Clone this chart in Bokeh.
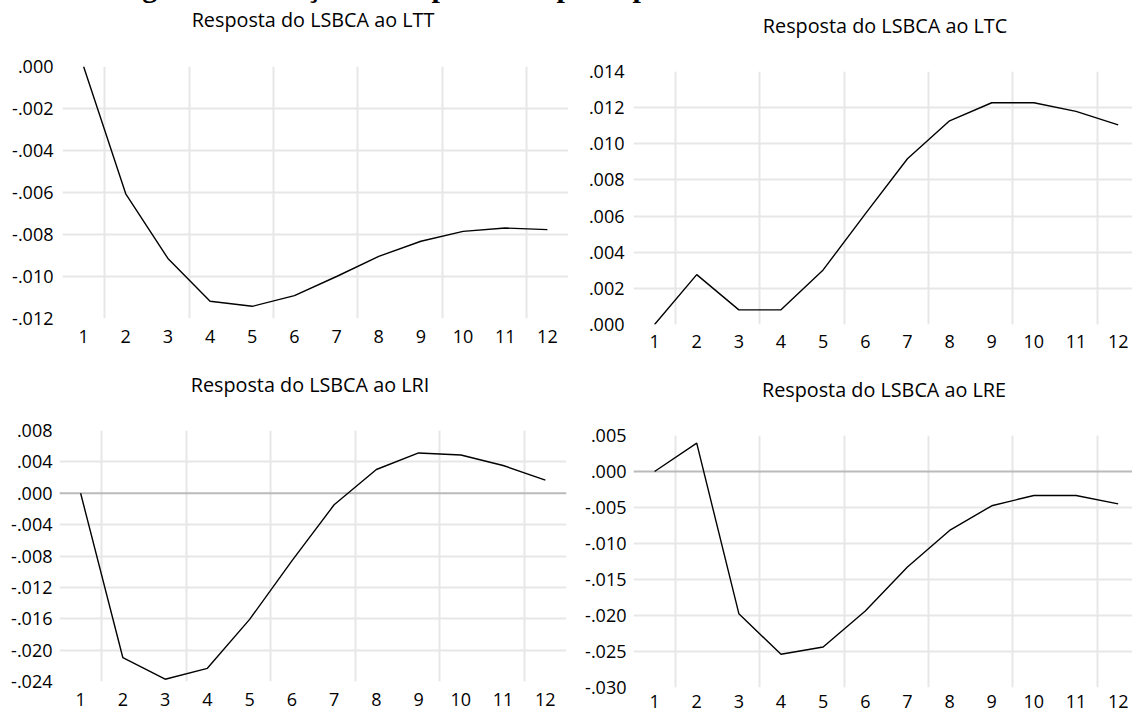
from bokeh.plotting import figure
from bokeh.models import FixedTicker, CustomJSTickFormatter, Span, Div, Range1d
from bokeh.layouts import column, row
from bokeh.embed import file_html
from bokeh.resources import INLINE

# ---------------- data ----------------
periods = [1, 2, 3, 4, 5, 6, 7, 8, 9, 10, 11, 12]
period_labels = ["1", "2", "3", "4", "5", "6", "7", "8", "9", "10", "11", "12"]

main_title = "Figura 4 – Função de Impulso-Resposta para o Modelo VAR Estimado"

title_ltt = "Resposta do LSBCA ao LTT"
title_ltc = "Resposta do LSBCA ao LTC"
title_lri = "Resposta do LSBCA ao LRI"
title_lre = "Resposta do LSBCA ao LRE"

resp_ltt = [0.0, -0.00606, -0.00914, -0.01118, -0.01142, -0.01091,
            -0.01000, -0.00904, -0.00832, -0.00785, -0.00769, -0.00777]
resp_ltc = [0.0, 0.00276, 0.00081, 0.00081, 0.00302, 0.00612,
            0.00917, 0.01127, 0.01227, 0.01227, 0.01179, 0.01105]
resp_lri = [0.0, -0.02097, -0.02371, -0.02232, -0.01608, -0.00863,
            -0.00147, 0.00303, 0.00514, 0.00488, 0.00354, 0.00168]
resp_lre = [0.0, 0.00393, -0.01975, -0.02539, -0.02438, -0.01938,
            -0.01327, -0.00819, -0.00476, -0.00333, -0.00333, -0.00449]

yticks_ltt = [0.0, -0.002, -0.004, -0.006, -0.008, -0.010, -0.012]
ylabels_ltt = [".000", "-.002", "-.004", "-.006", "-.008", "-.010", "-.012"]
yticks_ltc = [0.0, 0.002, 0.004, 0.006, 0.008, 0.010, 0.012, 0.014]
ylabels_ltc = [".000", ".002", ".004", ".006", ".008", ".010", ".012", ".014"]
yticks_lri = [0.008, 0.004, 0.0, -0.004, -0.008, -0.012, -0.016, -0.020, -0.024]
ylabels_lri = [".008", ".004", ".000", "-.004", "-.008", "-.012", "-.016", "-.020", "-.024"]
yticks_lre = [0.005, 0.0, -0.005, -0.010, -0.015, -0.020, -0.025, -0.030]
ylabels_lre = [".005", ".000", "-.005", "-.010", "-.015", "-.020", "-.025", "-.030"]

# ---------------- styling ----------------
FONT = "Open Sans"
TICK_SIZE = "18px"
TITLE_SIZE_PX = 19.8
GRID_COLOR = "#e7e7e7"
ZERO_COLOR = "#bababa"

LOOKUP_JS = """
for (let i = 0; i < tv.length; i++) {
  if (Math.abs(tv[i] - tick) < 1e-9) { return tl[i]; }
}
return "";
"""


def make_panel(values, yticks, ylabels, width, height, mbl, mbr, mbt, mbb,
               x_end, y_standoff, x_standoff, zero_line):
    y_lo, y_hi = min(yticks), max(yticks)
    p = figure(width=width, height=height,
               min_border_left=mbl, min_border_right=mbr,
               min_border_top=mbt, min_border_bottom=mbb,
               x_range=Range1d(0.5, x_end), y_range=Range1d(y_lo, y_hi),
               output_backend="svg", toolbar_location=None, tools="")
    p.margin = (0, 0, 0, 0)
    p.outline_line_color = None
    p.background_fill_color = "white"
    p.border_fill_color = "white"

    p.xaxis.ticker = FixedTicker(ticks=periods)
    p.xaxis.formatter = CustomJSTickFormatter(args=dict(tv=periods, tl=period_labels), code=LOOKUP_JS)
    p.yaxis.ticker = FixedTicker(ticks=yticks)
    p.yaxis.formatter = CustomJSTickFormatter(args=dict(tv=yticks, tl=ylabels), code=LOOKUP_JS)
    for ax in (p.xaxis, p.yaxis):
        ax.axis_line_color = None
        ax.major_tick_line_color = None
        ax.minor_tick_line_color = None
        ax.major_tick_out = 0
        ax.major_tick_in = 0
        ax.major_label_text_font = FONT
        ax.major_label_text_font_size = TICK_SIZE
        ax.major_label_text_color = "#000000"
    p.yaxis.major_label_standoff = y_standoff
    p.xaxis.major_label_standoff = x_standoff

    # vertical grid between every second period, horizontal grid at interior ticks
    p.xgrid.ticker = FixedTicker(ticks=[t + 0.5 for t in periods[::2]])
    p.ygrid.ticker = FixedTicker(ticks=[t for t in yticks if y_lo < t < y_hi and t != 0])
    for g in (p.xgrid, p.ygrid):
        g.grid_line_color = GRID_COLOR
        g.grid_line_width = 2

    if zero_line:
        p.add_layout(Span(location=0, dimension="width", line_color=ZERO_COLOR,
                          line_width=2, level="underlay"))

    p.line(x=periods, y=values, line_color="black", line_width=1.4)
    return p


def title_div(text, width, height, center_x, pad_top):
    pad_left = 2 * center_x - width
    html = ('<div style="box-sizing: border-box; width: %dpx; padding-left: %dpx; '
            'padding-top: %dpx; text-align: center; white-space: nowrap; '
            'font-family: \'Open Sans\', sans-serif; font-size: %.1fpx; line-height: 26px; '
            'color: #000;">%s</div>') % (width, pad_left, pad_top, TITLE_SIZE_PX, text)
    return Div(text=html, width=width, height=height, margin=(0, 0, 0, 0))


p_ltt = make_panel(resp_ltt, yticks_ltt, ylabels_ltt, 568, 316, 62, 0, 22, 42, 12.5, 9, 11, False)
p_ltc = make_panel(resp_ltc, yticks_ltc, ylabels_ltc, 564, 316, 65, 0, 27, 36, 12.34, 9, 10, False)
p_lri = make_panel(resp_lri, yticks_lri, ylabels_lri, 568, 312, 59, 2, 20, 41, 12.5, 7, 11, True)
p_lre = make_panel(resp_lre, yticks_lre, ylabels_lre, 564, 312, 65, 0, 25, 35, 12.34, 7, 7, True)

t_ltt = title_div(title_ltt, 568, 44, 313, 7)
t_ltc = title_div(title_ltc, 564, 44, 317, 13)
t_lri = title_div(title_lri, 568, 50, 310, 12)
t_lre = title_div(title_lre, 564, 50, 316, 17)

main_div = Div(
    text=('<div style="position: relative; top: -28px; width: 1132px; '
          'font-family: \'Liberation Serif\', serif; font-weight: bold; '
          'font-size: 30px; line-height: 30px; text-align: center; white-space: nowrap; '
          'color: #000;">' + main_title + '</div>'),
    width=1132, height=8, margin=(0, 0, -8, 0))

c1 = column(t_ltt, p_ltt, spacing=0, margin=(0, 0, 0, 0))
c2 = column(t_ltc, p_ltc, spacing=0, margin=(0, 0, 0, 0))
c3 = column(t_lri, p_lri, spacing=0, margin=(0, 0, 0, 0))
c4 = column(t_lre, p_lre, spacing=0, margin=(0, 0, 0, 0))

top_row = row(c1, c2, spacing=0, margin=(0, 0, 0, 0))
bottom_row = row(c3, c4, spacing=0, margin=(0, 0, -9, 0))
layout = column(main_div, top_row, bottom_row, spacing=0, margin=(0, 0, 0, 0),
                styles={"overflow": "hidden"})

open("out.html", "w").write(file_html(layout, INLINE))
